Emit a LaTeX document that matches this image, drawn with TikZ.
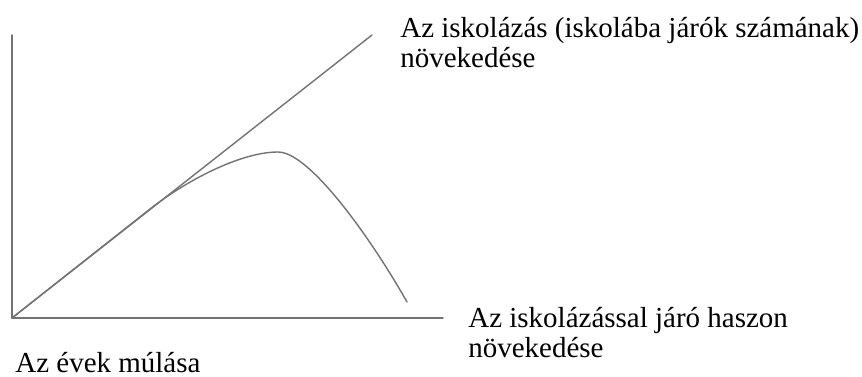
\documentclass[tikz,border=0pt]{standalone}
\usepackage{fontspec}
\setmainfont{Liberation Serif}
\begin{document}
\begin{tikzpicture}[x=0.02cm,y=0.02cm,every node/.style={font=\fontsize{16.5}{17}\selectfont,inner sep=0pt,anchor=base west,align=left},line join=round,line cap=round,gorbe/.style={color=black!55,line width=0.8pt}]
			\useasboundingbox (0,0) rectangle (862,376);
			\path
			(12,58) coordinate (O)
			(12,341) coordinate (Y)
			(443,58) coordinate (X)
			(372,341) coordinate (E)
			(150,167) coordinate (L)
			(278,224) coordinate (P)
			(407,74) coordinate (V);
			\draw[gorbe] (Y) -- (O) -- (X);
			\draw[gorbe] (O) -- (E);
			\draw[gorbe] (O) -- (L) .. controls (185,194.5) and (240,224) .. (P) .. controls (310,224) and (372,136) .. (V);
			\node (felso) at (400,309) {Az iskolázás (iskolába járók számának)\\növekedése};
			\node (haszon) at (468,19) {Az iskolázással járó haszon\\növekedése};
			\node (evek) at (15,4) {Az évek múlása};
		\end{tikzpicture}
\end{document}
